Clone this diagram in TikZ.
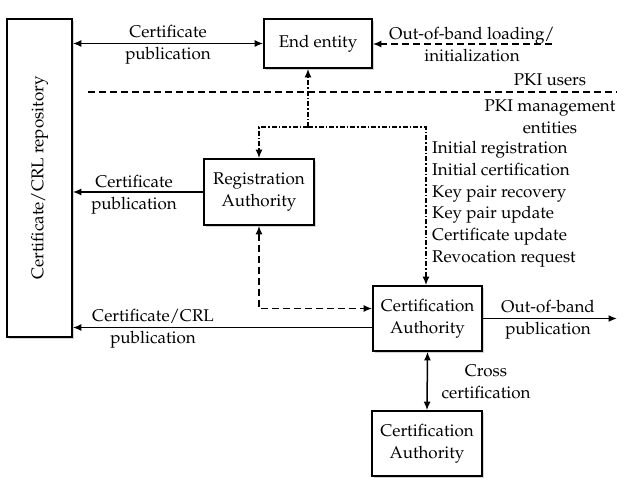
\documentclass[tikz,border=0pt]{standalone}
\usepackage[T1]{fontenc}
\renewcommand{\rmdefault}{ppl}
\usetikzlibrary{arrows.meta,shadows}
\begin{document}
\begin{tikzpicture}[x=1pt,y=-1pt,
  every node/.style={font=\fontsize{17}{22}\selectfont},
  box/.style={draw,line width=1.7pt,fill=white,align=center,inner sep=0pt,
    drop shadow={shadow xshift=2pt,shadow yshift=-2pt,opacity=0.35,fill=gray}},
  lbl/.style={align=center,inner sep=0pt},
  conn/.style={line width=1.5pt,{Latex[length=8.5pt,width=7pt]}-{Latex[length=8.5pt,width=7pt]}},
  arr/.style={line width=1.5pt,-{Latex[length=8.5pt,width=7pt]}},
  dsh/.style={dash pattern=on 7pt off 4pt},
  dshdot/.style={dash pattern=on 5pt off 2pt on 1.5pt off 2pt}]
\useasboundingbox (0,0) rectangle (631,487);
% boxes
\node[box,minimum width=65pt,minimum height=318pt] (repo) at (39.5,178)
  {\rotatebox{90}{Certificate/CRL repository}};
\node[box,minimum width=108pt,minimum height=49pt] (ee) at (318,43.5) {End entity};
\node[box,minimum width=110pt,minimum height=66pt] (ra) at (259,192) {Registration\\Authority};
\node[box,minimum width=109pt,minimum height=65pt] (ca) at (427.5,318.5) {Certification\\Authority};
\node[box,minimum width=110pt,minimum height=65pt] (ca2) at (427,443.5) {Certification\\Authority};
% certificate publication EE
\draw[conn] (ee.west) -- (repo.east |- ee.west);
\node[lbl] at (168,45) {Certificate\\publication};
% out-of-band loading
\coordinate (oob) at (552,44);
\draw[arr,dsh] (oob) -- (ee.east |- oob);
\node[lbl] at (472,45) {Out-of-band loading/\\initialization};
% separator
\coordinate (s1) at (88,92);
\coordinate (s2) at (617,92);
\draw[line width=1.5pt,dsh] (s1) -- (s2);
\node[lbl] at (550,80) {PKI users};
\node[lbl] at (550,116.5) {PKI management\\entities};
% dash-dot tree
\coordinate (j) at (308,127);
\draw[arr,dshdot] (j) -- (j |- ee.south);
\draw[arr,dshdot] (j) -| (ra.north);
\draw[arr,dshdot] (j) -| ([xshift=-1.5pt]ca.north);
% list
\node[lbl,align=left,anchor=north west,font=\fontsize{17}{21.8}\selectfont] at (432,141)
  {Initial registration\\Initial certification\\Key pair recovery\\Key pair update\\Certificate update\\Revocation request};
% RA publication
\draw[arr] (ra.west) -- (repo.east |- ra.west);
\node[lbl] at (134,195) {Certificate\\publication};
% RA-CA dashed
\coordinate (rc) at ([yshift=10pt]ca.west);
\draw[conn,dsh] (ra.south) |- (rc);
% CA publication
\coordinate (cp) at ([yshift=-9pt]ca.west);
\draw[arr] (cp) -- (repo.east |- cp);
\node[lbl] at (153,329) {Certificate/CRL\\publication};
% out-of-band publication
\coordinate (obp) at (617,318.5);
\draw[arr] (ca.east) -- (obp);
\node[lbl] at (548,320) {Out-of-band\\publication};
% cross certification
\draw[conn] (ca.south) -- (ca2.north);
\node[lbl] at (486,382) {Cross\\certification};
\end{tikzpicture}
\end{document}
